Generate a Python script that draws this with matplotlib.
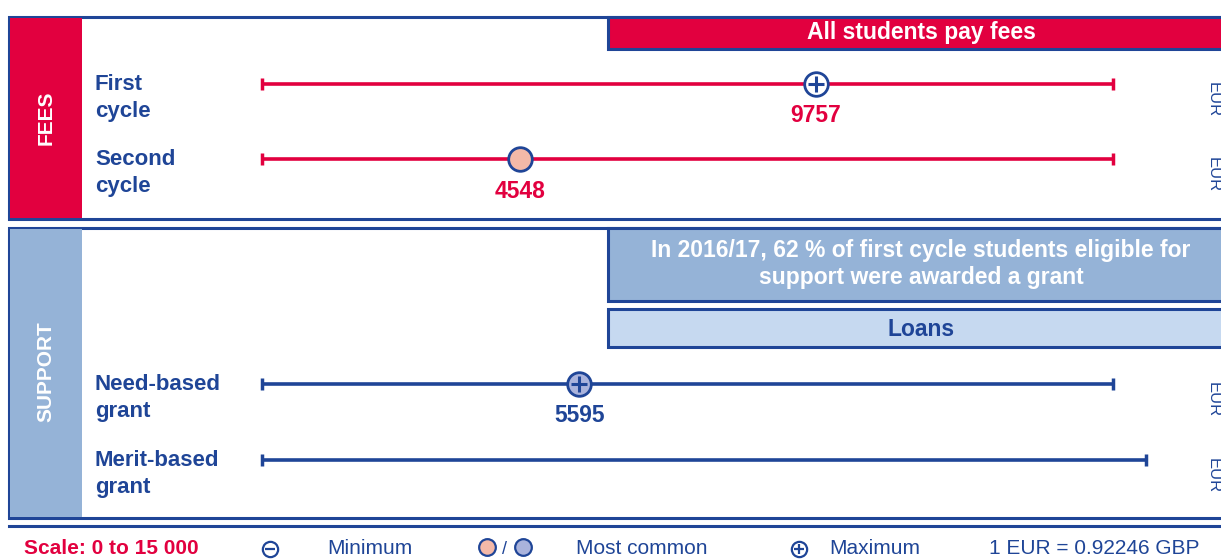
import matplotlib.pyplot as plt
from matplotlib.patches import Rectangle

plt.rcParams['font.family'] = ['Liberation Sans', 'DejaVu Sans']

# data (EUR, scale 0 to 15 000)
fee_rows = ['First\ncycle', 'Second\ncycle']
fee_ends = [15000, 15000]
fee_values = [9757, 4548]
fee_kinds = ['max', 'common']

grant_rows = ['Need-based\ngrant', 'Merit-based\ngrant']
grant_ends = [15000, 15580]
grant_values = [5595, None]
grant_kinds = ['max_common', None]

scale_max = 15000
fees_note = 'All students pay fees'
grant_note = 'In 2016/17, 62 % of first cycle students eligible for\nsupport were awarded a grant'
loans_note = 'Loans'
legend_items = ['Minimum', 'Most common', 'Maximum']
rate_text = '1 EUR = 0.92246 GBP'

BLUE = '#1f4597'
RED = '#e2003f'
STEEL = '#95b3d7'
PALE = '#c6d9f0'
SALMON = '#f4b9a8'
LAVENDER = '#aab3dc'

W, H = 1221, 560
fig = plt.figure(figsize=(W / 100, H / 100), dpi=100)

# background axes in pixel units for the frame and panels
bg = fig.add_axes([0, 0, 1, 1])
bg.set_xlim(0, W)
bg.set_ylim(H, 0)
bg.axis('off')

# value axes: 0..15000 mapped onto the range bars
x0, x1 = 262, 1113
ax = fig.add_axes([x0 / W, 0, (x1 - x0) / W, 1])
ax.set_xlim(0, scale_max)
ax.set_ylim(H, 0)
ax.axis('off')
ax.patch.set_alpha(0)


def box(x, y, w, h, face, edge=None, lw=2.2):
    bg.add_patch(Rectangle((x, y), w, h, facecolor=face,
                           edgecolor=edge if edge else 'none', lw=lw))


# FEES section
box(9, 17, 1240, 202, 'white', BLUE)
box(10, 18, 72, 200, RED)
bg.text(46, 118, 'FEES', rotation=90, color='white', fontsize=15,
        fontweight='bold', ha='center', va='center')
box(608, 17, 640, 32, RED, BLUE)
bg.text(921, 33, fees_note, color='white', fontsize=16.5, fontweight='bold',
        ha='center', va='center')

# SUPPORT section
box(9, 228, 1240, 290, 'white', BLUE)
box(10, 229, 72, 288, STEEL)
bg.text(46, 372, 'SUPPORT', rotation=90, color='white', fontsize=15,
        fontweight='bold', ha='center', va='center')
box(608, 228, 640, 73, STEEL, BLUE)
bg.text(921, 264, grant_note, color='white', fontsize=16.5, fontweight='bold',
        ha='center', va='center', linespacing=1.2)
box(608, 309, 640, 38, PALE, BLUE)
bg.text(921, 329, loans_note, color=BLUE, fontsize=16.5, fontweight='bold',
        ha='center', va='center')
bg.plot([9, W], [526, 526], color=BLUE, lw=2.2)


def draw_row(y, label, end, value, kind, color):
    bg.text(95, y + 14, label, color=BLUE, fontsize=16, fontweight='bold',
            ha='left', va='center', linespacing=1.4)
    ax.plot([0, end], [y, y], color=color, lw=2.6, solid_capstyle='butt',
            clip_on=False)
    ax.plot([0, end], [y, y], ls='none', marker='|', ms=9, mew=2.5,
            color=color, clip_on=False)
    bg.text(1213, y - 2, 'EUR', rotation=270, color=BLUE, fontsize=12,
            ha='center', va='top')
    if value is None:
        return
    face = {'max': 'white', 'common': SALMON, 'max_common': LAVENDER}[kind]
    ax.plot(value, y, marker='o', ms=17, mfc=face, mec=BLUE, mew=2, zorder=5)
    if kind in ('max', 'max_common'):
        ax.plot(value, y, marker='+', ms=11, mew=2.2, color=BLUE, zorder=6)
    ax.text(value, y + 32, str(value), color=color, fontsize=16.5,
            fontweight='bold', ha='center', va='center')


for y, lab, end, v, k in zip([84, 159], fee_rows, fee_ends, fee_values, fee_kinds):
    draw_row(y, lab, end, v, k, RED)
for y, lab, end, v, k in zip([384, 460], grant_rows, grant_ends, grant_values, grant_kinds):
    draw_row(y, lab, end, v, k, BLUE)

# legend row
ly = 549
bg.text(24, ly, 'Scale: 0 to %s' % format(scale_max, ',').replace(',', ' '),
        color=RED, fontsize=15, fontweight='bold', ha='left', va='center')
bg.plot(270, ly, marker='o', ms=11, mfc='white', mec=BLUE, mew=1.6)
bg.plot(270, ly, marker='_', ms=7, mew=1.6, color=BLUE)
bg.text(327, ly, legend_items[0], color=BLUE, fontsize=15, ha='left', va='center')
bg.plot(487, ly - 2, marker='o', ms=12, mfc=SALMON, mec=BLUE, mew=1.6)
bg.text(505, ly, '/', color=BLUE, fontsize=13, ha='center', va='center')
bg.plot(523, ly - 2, marker='o', ms=12, mfc=LAVENDER, mec=BLUE, mew=1.6)
bg.text(576, ly, legend_items[1], color=BLUE, fontsize=15, ha='left', va='center')
bg.plot(799, ly, marker='o', ms=11, mfc='white', mec=BLUE, mew=1.6)
bg.plot(799, ly, marker='+', ms=7, mew=1.6, color=BLUE)
bg.text(829, ly, legend_items[2], color=BLUE, fontsize=15, ha='left', va='center')
bg.text(989, ly, rate_text, color=BLUE, fontsize=15, ha='left', va='center')

fig.savefig('out.png', dpi=100)
